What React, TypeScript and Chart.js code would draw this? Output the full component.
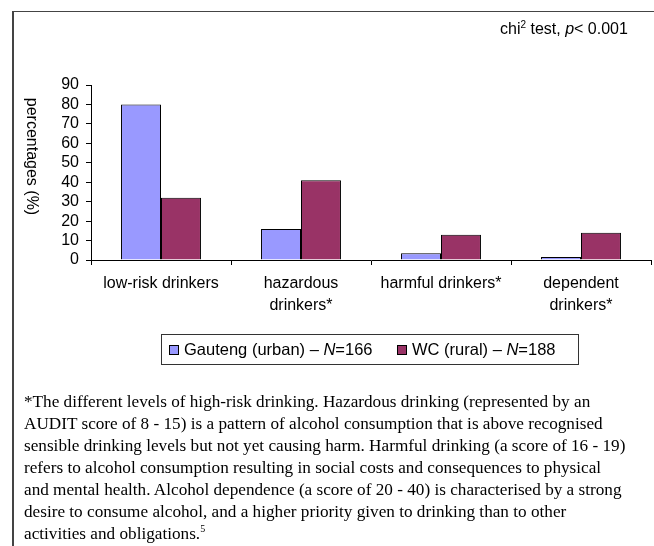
import React, { useEffect, useRef } from "react";
import { Chart, registerables } from "chart.js";

Chart.register(...registerables);

const categories: string[][] = [
  ["low-risk drinkers"],
  ["hazardous", "drinkers*"],
  ["harmful drinkers*"],
  ["dependent", "drinkers*"],
];
const gautengValues = [80, 16, 3.5, 1.5];
const wcValues = [32, 41, 13, 14];
const yMin = 0;
const yMax = 90;
const yStep = 10;
const gautengLabel = "Gauteng (urban) – N=166";
const wcLabel = "WC (rural) – N=188";
const yTitle = "percentages (%)";

const SANS = "'Liberation Sans', Arial, sans-serif";
const SERIF = "'Liberation Serif', 'Times New Roman', serif";

const axisTitlePlugin = {
  id: "axisTitleDown",
  afterDraw(chart: any) {
    const ctx = chart.ctx;
    const area = chart.chartArea;
    ctx.save();
    ctx.fillStyle = "#000";
    ctx.font = `16px ${SANS}`;
    ctx.translate(31, (area.top + area.bottom) / 2 - 16);
    ctx.rotate(Math.PI / 2);
    ctx.textAlign = "center";
    ctx.textBaseline = "middle";
    ctx.fillText(yTitle, 0, 0);
    ctx.restore();
  },
};

export default function App() {
  const canvasRef = useRef<HTMLCanvasElement>(null);

  useEffect(() => {
    if (!canvasRef.current) return;
    const chart = new Chart(canvasRef.current, {
      type: "bar",
      data: {
        labels: categories,
        datasets: [
          {
            label: gautengLabel,
            data: gautengValues,
            backgroundColor: "#9999FF",
            borderColor: "#000",
            borderWidth: 1,
            categoryPercentage: 0.571,
            barPercentage: 1,
          },
          {
            label: wcLabel,
            data: wcValues,
            backgroundColor: "#993366",
            borderColor: "#000",
            borderWidth: 1,
            categoryPercentage: 0.571,
            barPercentage: 1,
          },
        ],
      },
      options: {
        responsive: false,
        maintainAspectRatio: false,
        animation: false,
        layout: { padding: { top: 85, right: 3, left: 0, bottom: 0 } },
        plugins: {
          legend: { display: false },
          tooltip: { enabled: false },
        },
        scales: {
          x: {
            grid: {
              drawOnChartArea: false,
              tickLength: 5,
              color: "#000",
              offset: true,
            },
            border: { color: "#000", width: 1 },
            ticks: {
              color: "#000",
              font: { family: SANS, size: 16, lineHeight: 1.4 },
              padding: 7,
              maxRotation: 0,
              autoSkip: false,
            },
            afterFit: (s: any) => {
              s.height = 286;
            },
          },
          y: {
            min: yMin,
            max: yMax,
            grid: {
              drawOnChartArea: false,
              tickLength: 5,
              color: "#000",
            },
            border: { color: "#000", width: 1 },
            ticks: {
              stepSize: yStep,
              autoSkip: false,
              color: "#000",
              font: { family: SANS, size: 16 },
              padding: 7,
            },
            afterFit: (s: any) => {
              s.width = 91;
            },
          },
        },
      },
      plugins: [axisTitlePlugin],
    });
    return () => chart.destroy();
  }, []);

  const legendSwatch = (color: string) => (
    <span
      style={{
        display: "inline-block",
        width: 8,
        height: 8,
        background: color,
        border: "1px solid #000",
        marginRight: 5,
        verticalAlign: "middle",
        position: "relative",
        top: -1,
      }}
    />
  );

  const supStyle = { fontSize: 10, lineHeight: 0 } as const;

  return (
    <div
      style={{
        position: "absolute",
        left: 0,
        top: 0,
        width: 654,
        height: 546,
        background: "#fff",
        overflow: "hidden",
      }}
    >
      <div
        style={{
          position: "absolute",
          left: 12,
          top: 11,
          width: 660,
          height: 560,
          borderLeft: "2px solid #444",
          borderTop: "1px solid #444",
        }}
      />
      <canvas
        ref={canvasRef}
        width={654}
        height={546}
        style={{ position: "absolute", left: 0, top: 0, display: "block" }}
      />
      <div
        style={{
          position: "absolute",
          left: 500,
          top: 20,
          fontFamily: SANS,
          fontSize: 16,
          color: "#000",
          whiteSpace: "nowrap",
        }}
      >
        chi<sup style={supStyle}>2</sup> test, <i>p</i>&lt; 0.001
      </div>
      <div
        style={{
          position: "absolute",
          left: 161,
          top: 334,
          width: 416,
          height: 29,
          border: "1px solid #333",
          fontFamily: SANS,
          fontSize: 16.5,
          color: "#000",
          whiteSpace: "nowrap",
          lineHeight: "29px",
          boxSizing: "content-box",
        }}
      >
        <span style={{ position: "absolute", left: 7 }}>
          {legendSwatch("#9999FF")}Gauteng (urban) – <i>N</i>=166
        </span>
        <span style={{ position: "absolute", left: 235 }}>
          {legendSwatch("#993366")}WC (rural) – <i>N</i>=188
        </span>
      </div>
      <div
        style={{
          position: "absolute",
          left: 24,
          top: 391,
          fontFamily: SERIF,
          fontSize: 17.2,
          lineHeight: "22px",
          color: "#000",
          whiteSpace: "nowrap",
        }}
      >
        *The different levels of high-risk drinking. Hazardous drinking (represented by an
        <br />
        AUDIT score of 8 - 15) is a pattern of alcohol consumption that is above recognised
        <br />
        sensible drinking levels but not yet causing harm. Harmful drinking (a score of 16 - 19)
        <br />
        refers to alcohol consumption resulting in social costs and consequences to physical
        <br />
        and mental health. Alcohol dependence (a score of 20 - 40) is characterised by a strong
        <br />
        desire to consume alcohol, and a higher priority given to drinking than to other
        <br />
        activities and obligations.<sup style={supStyle}>5</sup>
      </div>
    </div>
  );
}
